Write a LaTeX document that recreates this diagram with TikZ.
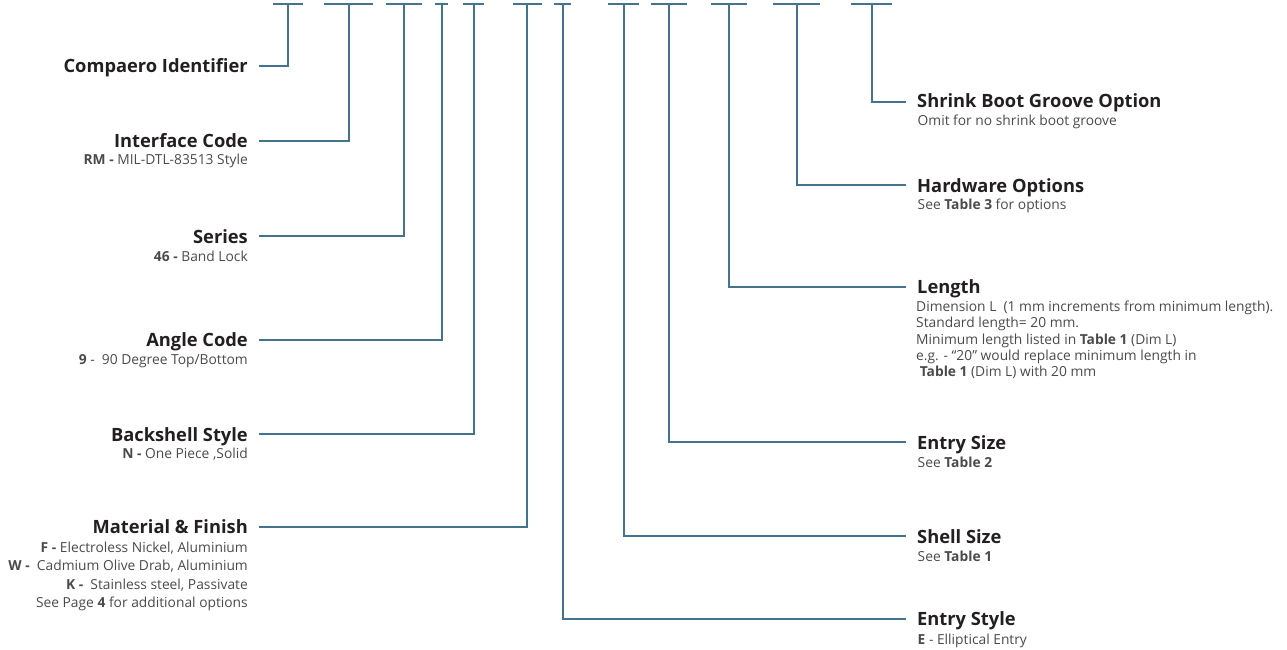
\documentclass[tikz,border=0pt]{standalone}
\usepackage{fontspec}
\setmainfont{Open Sans}
\definecolor{lnc}{HTML}{44738E}
\definecolor{ttc}{HTML}{231F20}
\definecolor{sbc}{HTML}{4A4A4A}
\tikzset{
  conn/.style={draw=lnc, line width=2pt},
  ttl/.style={font=\fontsize{18.3}{20}\selectfont\bfseries, text=ttc, inner sep=0pt},
  sbl/.style={font=\fontsize{13.8}{16}\selectfont, text=sbc, inner sep=0pt},
}
\begin{document}
\begin{tikzpicture}[x=1pt,y=-1pt]
\useasboundingbox (0,0) rectangle (1287,650);

% ---- top bars ----
\foreach \n/\l/\r/\v in {1/273/303/288, 2/324/373/348.5, 3/386/422/404, 4/435/448/441.5,
  5/463/484/474, 6/513/542/527, 7/554/571/563, 8/608/639/623.5, 9/651/687/669,
  10/711/747/728.5, 11/773/820/797, 12/851/892/872}{
  \coordinate (bl\n) at (\l,4);
  \coordinate (br\n) at (\r,4);
  \coordinate (b\n) at (\v,4);
  \draw[conn] (bl\n) -- (br\n);
}

% ---- left labels ----
\node[ttl, anchor=base east] (t1) at (248,73) {Compaero Identifier};
\coordinate (c1) at (259,66);

\node[ttl, anchor=base east] (t2) at (248,147.5) {Interface Code};
\node[sbl, anchor=base east] (s2) at (248,164.5) {\textbf{RM -} MIL-DTL-83513 Style};
\coordinate (c2) at (259,141);

\node[ttl, anchor=base east] (t3) at (248,243) {Series};
\node[sbl, anchor=base east] (s3) at (248,261) {\textbf{46 -} Band Lock};
\coordinate (c3) at (259,236);

\node[ttl, anchor=base east] (t4) at (248,346.5) {Angle Code};
\node[sbl, anchor=base east] (s4) at (248,364) {\textbf{9} -\ \ 90 Degree Top/Bottom};
\coordinate (c4) at (259,339.5);

\node[ttl, anchor=base east] (t5) at (248,441) {Backshell Style};
\node[sbl, anchor=base east] (s5) at (248,458.5) {\textbf{N -} One Piece ,Solid};
\coordinate (c5) at (259,434);

\node[ttl, anchor=base east] (t6) at (248,533) {Material \& Finish};
\node[sbl, anchor=base east] (s6a) at (248,552.5) {\textbf{F -} Electroless Nickel, Aluminium};
\node[sbl, anchor=base east] (s6b) at (248,570.5) {\textbf{W -}\ \ Cadmium Olive Drab, Aluminium};
\node[sbl, anchor=base east] (s6c) at (248,589) {\textbf{K -}\ \ Stainless steel, Passivate};
\node[sbl, anchor=base east] (s6d) at (248,607.5) {See Page \textbf{4} for additional options};
\coordinate (c6) at (259,526.5);

% ---- right labels ----
\node[ttl, anchor=base west] (t12) at (917,108) {Shrink Boot Groove Option};
\node[sbl, anchor=base west] (s12) at (917.5,125.5) {Omit for no shrink boot groove};
\coordinate (c12) at (906,102);

\node[ttl, anchor=base west] (t11) at (917,192) {Hardware Options};
\node[sbl, anchor=base west] (s11) at (917.5,209.5) {See \textbf{Table 3} for options};
\coordinate (c11) at (906,185);

\node[ttl, anchor=base west] (t10) at (917,293) {Length};
\node[sbl, anchor=base west] (s10a) at (916,311.5) {Dimension L\ \ (1 mm increments from minimum length).};
\node[sbl, anchor=base west] (s10b) at (916,327.5) {Standard length= 20 mm.};
\node[sbl, anchor=base west] (s10c) at (916,344) {Minimum length listed in \textbf{Table 1} (Dim L)};
\node[sbl, anchor=base west] (s10d) at (916,360) {e.g. - “20” would replace minimum length in};
\node[sbl, anchor=base west] (s10e) at (916,376) {\ \textbf{Table 1} (Dim L) with 20 mm};
\coordinate (c10) at (906,286.5);

\node[ttl, anchor=base west] (t9) at (917,449) {Entry Size};
\node[sbl, anchor=base west] (s9) at (917.5,467) {See \textbf{Table 2}};
\coordinate (c9) at (906,442);

\node[ttl, anchor=base west] (t8) at (917,543) {Shell Size};
\node[sbl, anchor=base west] (s8) at (917.5,561) {See \textbf{Table 1}};
\coordinate (c8) at (906,536);

\node[ttl, anchor=base west] (t7) at (917,625.5) {Entry Style};
\node[sbl, anchor=base west] (s7) at (917.5,644) {\textbf{E} - Elliptical Entry};
\coordinate (c7) at (906,618.5);

% ---- connectors ----
\foreach \n in {1,...,12}{
  \draw[conn] (c\n) -| (b\n);
}
\end{tikzpicture}
\end{document}
